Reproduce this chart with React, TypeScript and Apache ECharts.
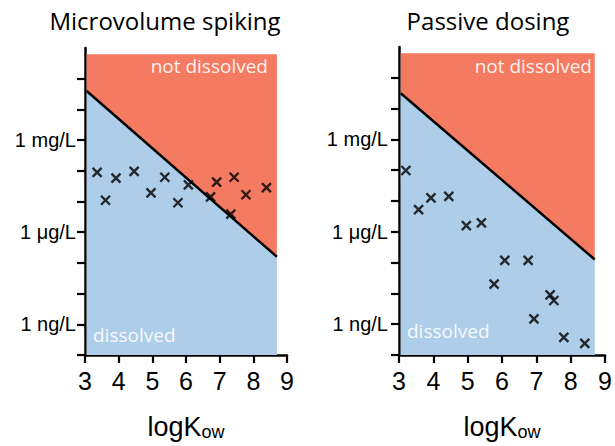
import React, { useEffect, useRef } from 'react';
import * as echarts from 'echarts';

// x: logKow ; y: log10 of concentration in ng/L
const xTickValues = [3, 4, 5, 6, 7, 8, 9];
const yTickValues = [-1, 0, 1, 2, 3, 4, 5, 6, 7, 8];
const yLabelValues = [0, 3, 6];
const yLabelNames = ['1 ng/L', '1 μg/L', '1 mg/L'];

const panelTitles = ['Microvolume spiking', 'Passive dosing'];
const regionNames = ['not dissolved', 'dissolved'];

const spikingX = [3.36, 3.61, 3.92, 4.46, 4.96, 5.37, 5.76, 6.07, 6.73, 6.91, 7.33, 7.43, 7.78, 8.39];
const spikingY = [4.95, 4.04, 4.76, 4.98, 4.28, 4.79, 3.96, 4.54, 4.15, 4.63, 3.59, 4.79, 4.22, 4.45];

const dosingX = [3.2, 3.57, 3.93, 4.45, 4.96, 5.4, 6.08, 6.76, 5.77, 7.4, 7.51, 6.93, 7.8, 8.41];
const dosingY = [4.99, 3.72, 4.1, 4.15, 3.2, 3.29, 2.07, 2.07, 1.3, 0.95, 0.77, 0.17, -0.43, -0.62];

// solubility boundary (start, end) and region extent
const spikingBoundary = [[3.05, 7.6], [8.7, 2.2]];
const dosingBoundary = [[3.05, 7.5], [8.7, 2.1]];
const regionTop = 8.8;
const regionBottom = -1;

const RED = '#F57A62';
const BLUE = '#AECDE8';
const LABEL_FONT = '"Liberation Sans", Arial, sans-serif';
const TEXT_FONT = '"Open Sans", Lato, sans-serif';

function makeAxes(i: number) {
  const xAxis = {
    type: 'value',
    gridIndex: i,
    min: 3,
    max: 9,
    interval: 1,
    splitLine: { show: false },
    axisLine: { show: true, onZero: false, lineStyle: { color: '#000', width: 2.5 } },
    axisTick: { show: true, length: 8, lineStyle: { color: '#000', width: 2.2 } },
    axisLabel: {
      fontSize: 25,
      fontFamily: LABEL_FONT,
      color: '#000',
      margin: 13,
    },
    name: '{a|logK}{b|ow}',
    nameLocation: 'middle',
    nameGap: 57,
    nameTextStyle: {
      fontFamily: LABEL_FONT,
      color: '#000',
      rich: {
        a: { fontSize: 27 },
        b: { fontSize: 18, padding: [11, 0, 0, 0] },
      },
    },
  };
  const yAxis = {
    type: 'value',
    gridIndex: i,
    min: -1,
    max: 9,
    interval: 1,
    splitLine: { show: false },
    axisLine: { show: true, onZero: false, lineStyle: { color: '#000', width: 2.5 } },
    axisTick: { show: true, length: 8, customValues: yTickValues, lineStyle: { color: '#000', width: 2.2 } },
    axisLabel: {
      customValues: yLabelValues,
      formatter: (v: number) => {
        const k = yLabelValues.indexOf(Math.round(v));
        return k >= 0 ? yLabelNames[k] : '';
      },
      fontSize: 20,
      fontFamily: LABEL_FONT,
      color: '#000',
      margin: i === 0 ? 9 : 11,
    },
  };
  return { xAxis, yAxis };
}

function regionSeries(i: number, boundary: number[][]) {
  const [p0, p1] = boundary;
  return {
    type: 'custom',
    xAxisIndex: i,
    yAxisIndex: i,
    silent: true,
    clip: true,
    z: 1,
    data: [[p0[0], regionBottom]],
    renderItem: (_params: any, api: any) => {
      const c = (pts: number[][]) => pts.map((p) => api.coord(p));
      return {
        type: 'group',
        children: [
          {
            type: 'polygon',
            shape: { points: c([[p0[0], regionBottom], [p0[0], p0[1]], [p1[0], p1[1]], [p1[0], regionBottom]]) },
            style: { fill: BLUE },
          },
          {
            type: 'polygon',
            shape: { points: c([[p0[0], p0[1]], [p0[0], regionTop], [p1[0], regionTop], [p1[0], p1[1]]]) },
            style: { fill: RED },
          },
        ],
      };
    },
  };
}

function boundarySeries(i: number, boundary: number[][]) {
  return {
    type: 'line',
    xAxisIndex: i,
    yAxisIndex: i,
    data: boundary,
    symbol: 'none',
    silent: true,
    z: 3,
    lineStyle: { color: '#000', width: 2.5 },
  };
}

function pointSeries(i: number, xs: number[], ys: number[]) {
  return {
    type: 'scatter',
    xAxisIndex: i,
    yAxisIndex: i,
    data: xs.map((x, k) => [x, ys[k]]),
    symbol: 'path://M0,0L10,10M10,0L0,10',
    symbolSize: 9,
    z: 4,
    itemStyle: { color: 'rgba(0,0,0,0)', borderColor: '#000', borderWidth: 2.4 },
  };
}

export default function App() {
  const ref = useRef<HTMLDivElement>(null);
  useEffect(() => {
    if (!ref.current) return;
    const chart = echarts.init(ref.current, null, { renderer: 'svg' });
    const a0 = makeAxes(0);
    const a1 = makeAxes(1);
    const white = 'rgba(255,255,255,0.92)';
    const titleStyle = { fontFamily: TEXT_FONT, fontSize: 24, fontWeight: 'normal', color: '#000' };
    const regionStyle = { fontFamily: TEXT_FONT, fontSize: 19, fontWeight: 'normal', color: white };
    chart.setOption({
      animation: false,
      title: [
        { text: panelTitles[0], left: 165, top: 8, textAlign: 'center', padding: 0, textStyle: titleStyle },
        { text: panelTitles[1], left: 488, top: 8, textAlign: 'center', padding: 0, textStyle: titleStyle },
        { text: regionNames[0], left: 268, top: 56, textAlign: 'right', padding: 0, textStyle: regionStyle },
        { text: regionNames[0], left: 592, top: 56, textAlign: 'right', padding: 0, textStyle: regionStyle },
        { text: regionNames[1], left: 93, top: 325, padding: 0, textStyle: regionStyle },
        { text: regionNames[1], left: 407, top: 321, padding: 0, textStyle: regionStyle },
      ],
      grid: [
        { left: 85, top: 48, width: 202, height: 310 },
        { left: 399, top: 47, width: 211, height: 309 },
      ],
      xAxis: [a0.xAxis, a1.xAxis],
      yAxis: [a0.yAxis, a1.yAxis],
      series: [
        regionSeries(0, spikingBoundary),
        boundarySeries(0, spikingBoundary),
        pointSeries(0, spikingX, spikingY),
        regionSeries(1, dosingBoundary),
        boundarySeries(1, dosingBoundary),
        pointSeries(1, dosingX, dosingY),
      ],
    });
    return () => chart.dispose();
  }, []);
  return <div ref={ref} style={{ position: 'fixed', left: 0, top: 0, width: 615, height: 446, background: '#fff' }} />;
}
